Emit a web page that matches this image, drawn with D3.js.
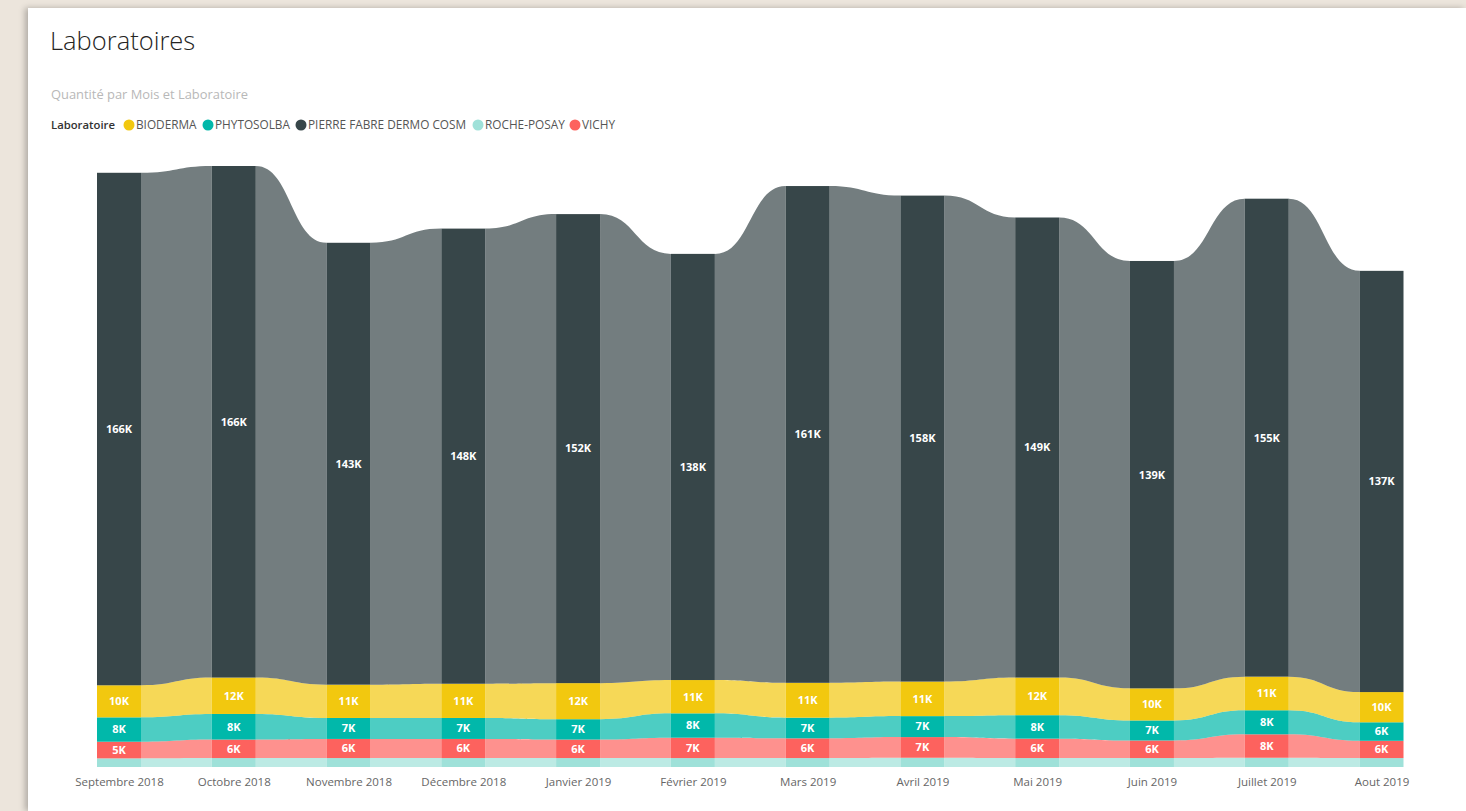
<!DOCTYPE html>
<html>
<head>
<meta charset="utf-8">
<script src="https://cdn.jsdelivr.net/npm/d3@7"></script>
<style>
  body { margin: 0; background: #ece5dc; overflow: hidden; }
  #panel { position: absolute; left: 28px; top: 8px; width: 1438px; height: 803px; background: #fff;
           box-shadow: -3px 0 6px rgba(0,0,0,0.25); }
  svg { position: absolute; left: 0; top: 0; }
</style>
</head>
<body>
<div id="panel"></div>
<div id="chart"></div>
<script>
// Data (K units)
//////////////////////////////////////////////////////////////////////
const months = ["Septembre 2018", "Octobre 2018", "Novembre 2018", "Décembre 2018", "Janvier 2019", "Février 2019",
                "Mars 2019", "Avril 2019", "Mai 2019", "Juin 2019", "Juillet 2019", "Aout 2019"];
const labs = ["BIODERMA", "PHYTOSOLBA", "PIERRE FABRE DERMO COSM", "ROCHE-POSAY", "VICHY"];
const pierreFabre = [166.2, 165.9, 143.3, 147.6, 152.1, 138.2, 161.1, 157.6, 149.2, 138.6, 155.0, 136.6];
const bioderma    = [10.4, 11.8, 10.8, 11.1, 11.7, 10.8, 11.3, 11.2, 12.2, 10.4, 10.9, 9.8];
const phytosolba  = [7.9, 8.3, 6.8, 6.8, 6.6, 7.9, 6.7, 6.8, 7.6, 6.5, 7.8, 6.0];
const vichy       = [5.4, 6.0, 6.2, 6.2, 6.0, 6.6, 6.4, 6.7, 6.3, 5.7, 7.6, 5.6];
const rochePosay  = [2.8, 2.9, 2.9, 2.9, 2.9, 2.9, 2.9, 3.0, 2.9, 2.9, 3.0, 2.9];

// Variables
//////////////////////////////////////////////////////////////////////
const width = 1466, height = 811;
const fontFamily = "'Open Sans', 'Segoe UI', sans-serif";
const barWidth = 44;
const colors = {
  "BIODERMA": "#F2C80F",
  "PHYTOSOLBA": "#01B8AA",
  "PIERRE FABRE DERMO COSM": "#374649",
  "ROCHE-POSAY": "#9FE1D9",
  "VICHY": "#FD625E"
};
// stack order bottom -> top
const series = [
  { name: "ROCHE-POSAY", values: rochePosay, label: false },
  { name: "VICHY", values: vichy, label: true },
  { name: "PHYTOSOLBA", values: phytosolba, label: true },
  { name: "BIODERMA", values: bioderma, label: true },
  { name: "PIERRE FABRE DERMO COSM", values: pierreFabre, label: true }
];

// Stack data
const table = months.map((m, i) => {
  const row = { month: m };
  series.forEach(s => row[s.name] = s.values[i]);
  return row;
});
const stacked = d3.stack().keys(series.map(s => s.name))(table);
const totals = table.map(r => d3.sum(series, s => r[s.name]));

// Scales
const x = d3.scalePoint(months, [119, 1381.5]);
const y = d3.scaleLinear([0, d3.max(totals)], [767, 166]);

const svg = d3.select("#chart").append("svg")
  .attr("width", width)
  .attr("height", height)
  .attr("font-family", fontFamily);

// Title, subtitle
svg.append("text")
  .attr("x", 50).attr("y", 50)
  .attr("font-size", 25.5).attr("font-weight", 300)
  .attr("fill", "#252423")
  .text("Laboratoires");
svg.append("text")
  .attr("x", 51).attr("y", 99)
  .attr("font-size", 12.9)
  .attr("fill", "#b8b8b8")
  .text("Quantité par Mois et Laboratoire");

// Legend
const legend = svg.append("g").attr("transform", "translate(51,125)").attr("font-size", 11.8);
legend.append("text").attr("dy", "0.35em").attr("font-weight", 600).attr("font-size", 11.3)
  .attr("fill", "#333").text("Laboratoire");
const legendX = [78, 157, 250, 427, 524];
labs.forEach((l, i) => {
  const g = legend.append("g").attr("transform", `translate(${legendX[i]},0)`);
  g.append("circle").attr("r", 5.5).attr("fill", colors[l]);
  g.append("text").attr("x", 7).attr("dy", "0.35em").attr("fill", "#555").text(l);
});

// Ribbons
const link = d3.linkHorizontal();
const ribbons = svg.append("g").attr("fill-opacity", 0.7);
stacked.forEach(layer => {
  for (let i = 0; i < months.length - 1; i++) {
    const x0 = x(months[i]) + barWidth / 2;
    const x1 = x(months[i + 1]) - barWidth / 2;
    const a = layer[i], b = layer[i + 1];
    const top = link({ source: [x0, y(a[1])], target: [x1, y(b[1])] });
    const bot = link({ source: [x1, y(b[0])], target: [x0, y(a[0])] });
    ribbons.append("path")
      .attr("fill", colors[layer.key])
      .attr("d", top + "L" + bot.slice(1) + "Z");
  }
});

// Bars
const bars = svg.append("g");
stacked.forEach(layer => {
  bars.selectAll(null)
    .data(layer)
    .join("rect")
    .attr("x", d => x(d.data.month) - barWidth / 2)
    .attr("width", barWidth)
    .attr("y", d => y(d[1]))
    .attr("height", d => y(d[0]) - y(d[1]))
    .attr("fill", colors[layer.key]);
});

// Data labels
const labels = svg.append("g")
  .attr("font-size", 11)
  .attr("font-weight", 700)
  .attr("fill", "#fff")
  .attr("text-anchor", "middle");
stacked.forEach((layer, k) => {
  if (!series[k].label) return;
  labels.selectAll(null)
    .data(layer)
    .join("text")
    .attr("x", d => x(d.data.month))
    .attr("y", d => (y(d[0]) + y(d[1])) / 2)
    .attr("dy", "0.35em")
    .text(d => Math.round(d[1] - d[0]) + "K");
});

// X axis
const axis = svg.append("g")
  .attr("transform", "translate(0,767)")
  .call(d3.axisBottom(x).tickSize(0).tickPadding(11));
axis.select(".domain").remove();
axis.selectAll("text")
  .attr("font-family", fontFamily)
  .attr("font-size", 11.5)
  .attr("fill", "#666");
</script>
</body>
</html>
